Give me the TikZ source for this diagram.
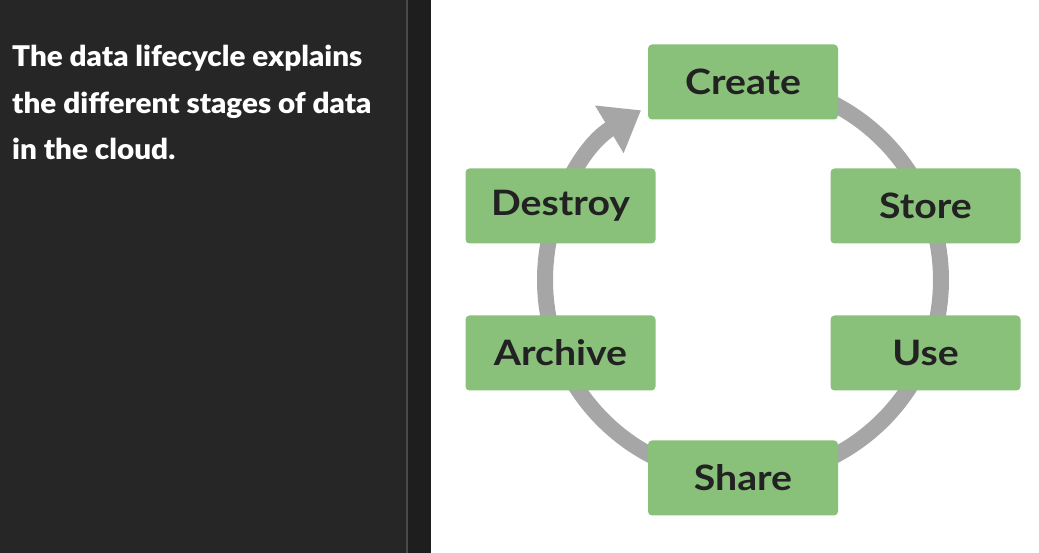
\documentclass[tikz,border=0pt]{standalone}
\usepackage{fontspec}
\setmainfont{Lato}
\newfontfamily\heavyfont{Lato Black}[FakeStretch=1.04]
\newfontfamily\stagefont{Lato Bold}[FakeStretch=1.12]
\usetikzlibrary{calc}
\usetikzlibrary{arrows.meta}

\definecolor{panel}{HTML}{262626}
\definecolor{strip}{HTML}{1E1E1E}
\definecolor{divider}{HTML}{4A4A4A}
\definecolor{stagegreen}{HTML}{8AC17A}
\definecolor{stagetext}{HTML}{222222}
\definecolor{ringgray}{HTML}{A6A6A6}

\begin{document}
\begin{tikzpicture}[x=1pt,y=1pt,
        stage/.style={fill=stagegreen,rounded corners=4pt,minimum width=190pt,
            minimum height=75pt,inner sep=0pt,text=stagetext,
            font=\stagefont\fontsize{35}{38}\selectfont},
        ring/.style={draw=ringgray,line width=16pt,
            -{Triangle[length=37pt,width=53pt]}}]
        % 背景
        \useasboundingbox (0,0) rectangle (1039,553);
        \fill [white] (0,0) rectangle (1039,553);
        \fill [panel] (0,0) rectangle (406,553);
        \fill [divider] (406,0) rectangle (408,553);
        \fill [strip] (408,0) rectangle (431,553);
        % 左侧说明文字
        \node [anchor=north west,align=left,text=white,inner sep=0pt,
            font=\heavyfont\fontsize{28.5}{46.5}\selectfont] (note) at (12,508)
            {The data lifecycle explains\\the different stages of data\\in the cloud.};
        % 圆心O
        \coordinate (O) at (743,273);
        % 循环弧线
        \draw [ring] ($(O)+(90:198)$) arc (90:-239:198pt);
        % 各阶段
        \node [stage] (create) at ($(O)+(90:198)$) {Create};
        \node [stage] (store) at (925.5,347) {Store};
        \node [stage] (use) at (925.5,200) {Use};
        \node [stage] (share) at ($(O)+(-90:198)$) {Share};
        \node [stage] (archive) at (560.5,200) {Archive};
        \node [stage] (destroy) at (560.5,347) {Destroy};
\end{tikzpicture}
\end{document}
